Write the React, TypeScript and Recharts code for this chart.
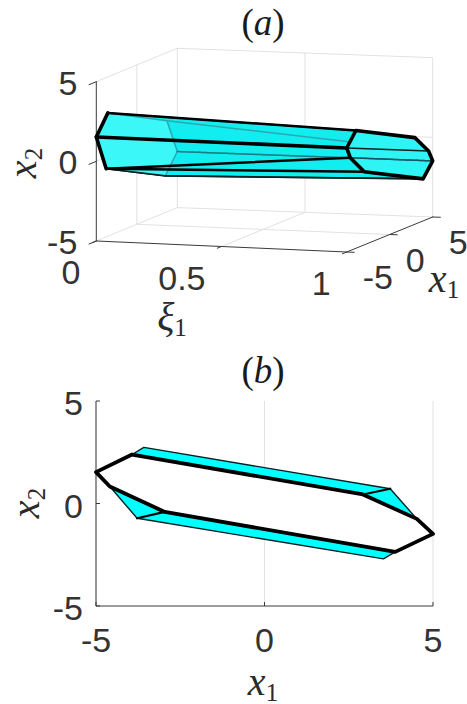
import React from 'react';
import { CartesianGrid, Scatter, ScatterChart, XAxis, YAxis } from 'recharts';

// section of the set at xi = 0
const SECTION0_X1 = [-5, -3.58, 3.73, 5, 3.53, -3.78];
const SECTION0_X2 = [1.53, 2.74, 0.72, -1.48, -2.7, -0.72];
// section of the set at xi = 1
const SECTION1_X1 = [-5, -3.93, 2.92, 4.52, 5, 3.88, -2.96, -4.59];
const SECTION1_X2 = [1.53, 2.39, 0.44, -0.75, -1.48, -2.36, -0.41, 0.83];
// projection of both sections along xi, panel (b)
const OUTLINE_X1 = [-5, -3.93, -3.58, 3.73, 4.52, 5, 3.88, 3.53, -3.78, -4.59];
const OUTLINE_X2 = [1.53, 2.39, 2.74, 0.72, -0.75, -1.48, -2.36, -2.7, -0.72, 0.83];

const TICKS_XI = [0, 0.5, 1];
const TICKS_X = [-5, 0, 5];
const TICK_TEXT = '#333333';
const AXIS = '#3a3a3a';
const GRID = '#e2e2e2';
const SANS = '"Liberation Sans", Arial, sans-serif';
const SERIF = '"Liberation Serif", serif';

type P3 = [number, number, number];

// 3D view of panel (a), output in page pixels
const view = ([xi, x1, x2]: P3) => {
    const a = x1 + 5;
    const b = x2 + 5;
    return {
        u: 96.3 + 250.4 * xi + 8.1 * a + 0.5 * xi * a,
        v: 241 + 11 * xi - 3.34 * a - 0.16 * xi * a - 15.93 * b,
    };
};

const s0 = (i: number): P3 => [0, SECTION0_X1[i], SECTION0_X2[i]];
const s1 = (i: number): P3 => [1, SECTION1_X1[i], SECTION1_X2[i]];
const line3 = (...pts: P3[]) => pts.map(view);

const drawPath = (fill: string, stroke: string, width: number, closed = false, dash?: string) => (props: any) => {
    const d = props.points.map((p: any, i: number) => `${i ? 'L' : 'M'}${p.x ?? p.cx},${p.y ?? p.cy}`).join(' ');
    return (
        <path
            d={d + (closed ? ' Z' : '')}
            fill={fill}
            stroke={stroke}
            strokeWidth={width}
            strokeLinejoin="round"
            strokeLinecap="round"
            strokeDasharray={dash}
        />
    );
};

const noDot = () => <g />;

const gridLines = [
    line3([0, -5, 5], [0, 5, 5], [1, 5, 5], [1, 5, -5], [0, 5, -5], [0, -5, -5]),
    line3([0, 5, 5], [0, 5, -5]),
    line3([0, 0, 5], [0, 0, -5]),
    line3([0.5, 5, 5], [0.5, 5, -5], [0.5, -5, -5]),
    line3([0, 0, -5], [1, 0, -5]),
    line3([0, -5, 0], [0, 5, 0], [1, 5, 0]),
];

const axisLines = [
    line3([0, -5, 5], [0, -5, -5], [1, -5, -5], [1, 5, -5]),
    ...TICKS_X.map(t => line3([0, -5, t], [0, -5.9, t])),
    ...TICKS_XI.map(t => line3([t, -5, -5], [t, -5.5, -5])),
    ...TICKS_X.map(t => line3([1, t, -5], [1.03, t, -5])),
];

const hull = line3(s0(0), s0(1), s1(1), s1(2), s1(3), s1(4), s1(5), s0(4), s0(5));
const face0 = line3(...SECTION0_X1.map((_, i) => s0(i)));
const face1 = line3(...SECTION1_X1.map((_, i) => s1(i)));

const hiddenEdges = [
    line3(s0(1), s0(2), s0(3), s0(4)),
    line3(s0(2), s1(3)),
    line3(s0(3), s1(4)),
];
const thinEdges = [line3(s0(5), s0(4)), line3(s0(4), s1(5)), line3(s1(0), s1(3))];
const mediumEdges = [line3(s0(5), s1(6)), line3(s0(5), s1(7)), line3(s0(1), s1(1))];
const thickEdges = [line3(s0(1), s0(0), s0(5)), line3(s0(0), s1(0))];

const xiLabels = TICKS_XI.map(t => ({ ...view([t, -5, -5]), label: String(t) }));
const x1Labels = TICKS_X.map(t => ({ ...view([1, t, -5]), label: String(t) }));
const x2Labels = TICKS_X.map(t => ({ ...view([0, -5, t]), label: String(t) }));

const tickText = (dx: number, dy: number, anchor: string) => (props: any) => (
    <text x={props.cx + dx} y={props.cy + dy} textAnchor={anchor} fontFamily={SANS} fontSize={34} fill={TICK_TEXT}>
        {props.payload.label}
    </text>
);

const toRows = (xs: number[], ys: number[]) => xs.map((x, i) => ({ x, y: ys[i] }));
const outlineRows = toRows(OUTLINE_X1, OUTLINE_X2);
const innerRows = toRows(SECTION1_X1, SECTION1_X2);
const connectorA = toRows([SECTION1_X1[2], OUTLINE_X1[3]], [SECTION1_X2[2], OUTLINE_X2[3]]);
const connectorB = toRows([SECTION1_X1[6], OUTLINE_X1[8]], [SECTION1_X2[6], OUTLINE_X2[8]]);

const MathText: React.FC<{ left: number; top: number; name: string; sub?: string; rotate?: boolean }> = ({ left, top, name, sub, rotate }) => (
    <div
        style={{
            position: 'absolute',
            left,
            top,
            fontFamily: SERIF,
            fontSize: 40,
            lineHeight: '36px',
            color: '#2a2a2a',
            whiteSpace: 'nowrap',
            transform: `translate(-50%, -50%)${rotate ? ' rotate(-90deg)' : ''}`,
        }}
    >
        <i>{name}</i>
        {sub && <span style={{ fontSize: 25, position: 'relative', top: 6 }}>{sub}</span>}
    </div>
);

const Title: React.FC<{ top: number; letter: string }> = ({ top, letter }) => (
    <div
        style={{
            position: 'absolute',
            left: 263,
            top,
            fontFamily: SERIF,
            fontSize: 37,
            lineHeight: '37px',
            color: '#1a1a1a',
            transform: 'translate(-50%, -50%)',
        }}
    >
        (<i>{letter}</i>)
    </div>
);

export default function App() {
    let key = 0;
    const series = (rows: any[], painter: any) => (
        <Scatter key={key++} data={rows} dataKey="v" line={painter} shape={noDot} isAnimationActive={false} />
    );
    return (
        <div style={{ position: 'absolute', left: 0, top: 0, width: 467, height: 704, background: '#fff', overflow: 'hidden' }}>
            <div style={{ position: 'absolute', left: 0, top: 0 }}>
                <ScatterChart width={467} height={345} margin={{ top: 0, right: 0, bottom: 0, left: 0 }}>
                    <XAxis type="number" dataKey="u" domain={[0, 467]} hide />
                    <YAxis type="number" dataKey="v" domain={[0, 345]} reversed hide />
                    {gridLines.map(l => series(l, drawPath('none', GRID, 1)))}
                    {axisLines.map(l => series(l, drawPath('none', AXIS, 1)))}
                    {series(hull, drawPath('#12eef0', '#0a2a2e', 1.5, true))}
                    {series(face0, drawPath('#3cf7f7', 'none', 0, true))}
                    {hiddenEdges.map(l => series(l, drawPath('none', '#27a9b2', 1.5)))}
                    {series(face1, drawPath('#2ef4f6', 'none', 0, true))}
                    {series(line3(s0(3), s1(4)), drawPath('none', '#1c7f88', 1.5, false, '2 1'))}
                    {thinEdges.map(l => series(l, drawPath('none', '#062024', 1.6)))}
                    {series(line3(s1(7), s1(4)), drawPath('none', '#14565e', 1.5, false, '2 1'))}
                    {mediumEdges.map(l => series(l, drawPath('none', '#000', 2.4)))}
                    {thickEdges.map(l => series(l, drawPath('none', '#000', 3.6)))}
                    {series(face1, drawPath('none', '#000', 3.6, true))}
                    <Scatter data={xiLabels} shape={tickText(-16, 43, 'end')} isAnimationActive={false} />
                    <Scatter data={x1Labels} shape={tickText(16, 37, 'start')} isAnimationActive={false} />
                    <Scatter data={x2Labels} shape={tickText(-19, 13, 'end')} isAnimationActive={false} />
                </ScatterChart>
            </div>
            <div style={{ position: 'absolute', left: 0, top: 345 }}>
                <ScatterChart width={467} height={359} margin={{ top: 56, right: 34, bottom: 38, left: 36 }}>
                    <CartesianGrid horizontal={false} stroke={GRID} />
                    <XAxis
                        type="number"
                        dataKey="x"
                        domain={[-5, 5]}
                        ticks={TICKS_X}
                        height={60}
                        stroke={AXIS}
                        tickSize={-4}
                        tickMargin={26}
                        tick={{ fontFamily: SANS, fontSize: 34, fill: TICK_TEXT }}
                    />
                    <YAxis
                        type="number"
                        dataKey="y"
                        domain={[-5, 5]}
                        ticks={TICKS_X}
                        width={60}
                        stroke={AXIS}
                        tickSize={-4}
                        tickMargin={17}
                        tick={{ fontFamily: SANS, fontSize: 34, fill: TICK_TEXT, dy: 2 }}
                    />
                    <Scatter data={outlineRows} line={drawPath('#00ffff', '#062024', 1.4, true)} shape={noDot} isAnimationActive={false} />
                    <Scatter data={connectorA} line={drawPath('none', '#000', 2.2)} shape={noDot} isAnimationActive={false} />
                    <Scatter data={connectorB} line={drawPath('none', '#000', 2.2)} shape={noDot} isAnimationActive={false} />
                    <Scatter data={innerRows} line={drawPath('#fff', '#000', 3.8, true)} shape={noDot} isAnimationActive={false} />
                </ScatterChart>
            </div>
            <Title top={22} letter="a" />
            <Title top={370} letter="b" />
            <MathText left={25} top={163} name="x" sub="2" rotate />
            <MathText left={444} top={281} name="x" sub="1" />
            <MathText left={172} top={319} name="ξ" sub="1" />
            <MathText left={28} top={503} name="x" sub="2" rotate />
            <MathText left={263} top={684} name="x" sub="1" />
        </div>
    );
}
